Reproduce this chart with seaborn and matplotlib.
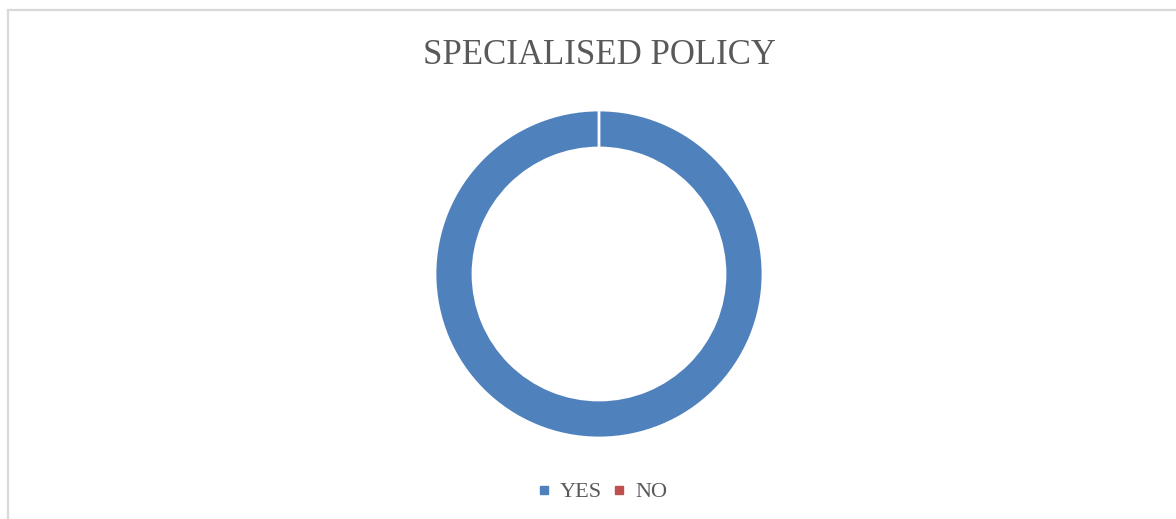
import matplotlib.pyplot as plt
import matplotlib.patches as mpatches
from matplotlib.lines import Line2D
import seaborn as sns

# Chart data
labels = ["YES", "NO"]
values = [100, 0]
colors = ["#4F81BD", "#C0504D"]
title = "SPECIALISED POLICY"

sns.set_theme(style="white")
plt.rcParams["font.family"] = ["Liberation Serif", "DejaVu Serif"]

W, H = 1176, 519
fig = plt.figure(figsize=(W / 100, H / 100), dpi=100)
fig.patch.set_facecolor("white")

# chart frame (left and top edges visible, rest cut off)
fig.add_artist(mpatches.Rectangle((8 / W, -0.05), 1.1, 1 - 10 / H + 0.05,
                                  transform=fig.transFigure, fill=False,
                                  edgecolor="#D9D9D9", linewidth=1.6))

cx, cy, r = 599, 274, 164
ax = fig.add_axes([(cx - r) / W, (H - cy - r) / H, 2 * r / W, 2 * r / H])
ax.pie(values, colors=colors, startangle=90, counterclock=False, radius=1,
       wedgeprops=dict(width=38 / 164, edgecolor="white", linewidth=2))
ax.set_xlim(-1, 1)
ax.set_ylim(-1, 1)
ax.set_aspect("equal")
ax.axis("off")

fig.text(599 / W, 1 - 55 / H, title, ha="center", va="center",
         fontsize=25, color="#595959")

handles = [Line2D([0], [0], marker="s", linestyle="none", markersize=6,
                  markerfacecolor=c, markeredgecolor=c) for c in colors]
fig.legend(handles, labels, loc="center", bbox_to_anchor=(601 / W, 1 - 492 / H),
           ncol=2, frameon=False, fontsize=16, handletextpad=0.3,
           columnspacing=0.4, handlelength=0.8, labelcolor="#595959")

fig.savefig("out.png", dpi=100)
